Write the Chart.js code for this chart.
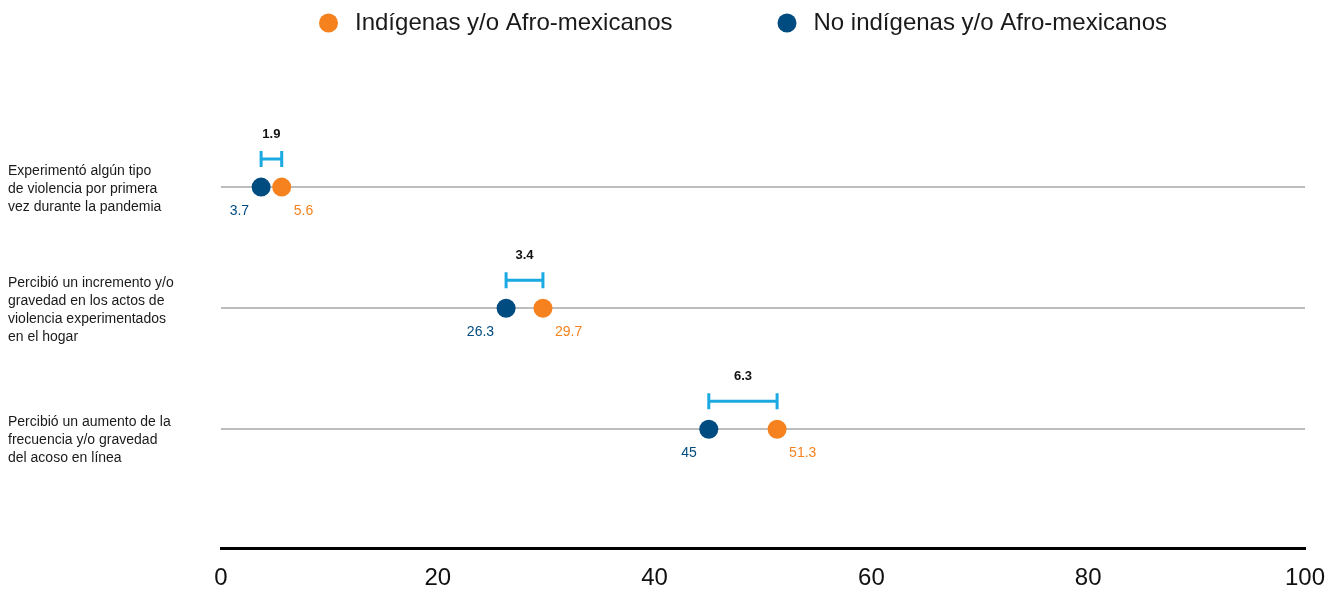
<!DOCTYPE html>
<html lang="es">
<head>
<meta charset="utf-8">
<script src="https://cdn.jsdelivr.net/npm/chart.js@4.4.1/dist/chart.umd.min.js"></script>
<style>
  html, body { margin: 0; padding: 0; background: #fff; }
  #wrap { width: 1336px; height: 593px; }
</style>
</head>
<body>
<div id="wrap"><canvas id="grafica"></canvas></div>
<script>
// datos
const categorias = [
    ['Experimentó algún tipo', 'de violencia por primera', 'vez durante la pandemia'],
    ['Percibió un incremento y/o', 'gravedad en los actos de', 'violencia experimentados', 'en el hogar'],
    ['', 'Percibió un aumento de la', 'frecuencia y/o gravedad', 'del acoso en línea']
];
const series = ['Indígenas y/o Afro-mexicanos', 'No indígenas y/o Afro-mexicanos'];
const indigenas = [5.6, 29.7, 51.3];
const noIndigenas = [3.7, 26.3, 45];
const brechas = [1.9, 3.4, 6.3];
const ticksX = [0, 20, 40, 60, 80, 100];

const naranja = '#f5821f';
const azul = '#004b80';
const celeste = '#1aa9e1';
const fuente = '"Liberation Sans", Arial, Helvetica, sans-serif';

Chart.defaults.font.family = fuente;

const leyenda = {
    id: 'leyenda',
    afterDraw(chart) {
        const ctx = chart.ctx;
        ctx.save();
        ctx.font = '24px ' + fuente;
        ctx.textBaseline = 'middle';
        let x = 319;
        chart.data.datasets.forEach(ds => {
            ctx.fillStyle = ds.backgroundColor;
            ctx.beginPath();
            ctx.arc(x + 9.5, 23, 9.5, 0, Math.PI * 2);
            ctx.fill();
            ctx.fillStyle = '#1a1a1a';
            ctx.fillText(ds.label, x + 36, 23);
            x += 36 + ctx.measureText(ds.label).width + 105;
        });
        ctx.restore();
    }
};

const etiquetas = {
    id: 'etiquetas',
    afterDatasetsDraw(chart) {
        const ctx = chart.ctx;
        const sx = chart.scales.x;
        const sy = chart.scales.y;
        ctx.save();
        brechas.forEach((b, i) => {
            const y = sy.getPixelForValue(i + 1);
            const xa = sx.getPixelForValue(noIndigenas[i]);
            const xn = sx.getPixelForValue(indigenas[i]);

            // valores
            ctx.font = '14px ' + fuente;
            ctx.textBaseline = 'middle';
            ctx.fillStyle = azul;
            ctx.textAlign = 'right';
            ctx.fillText(String(noIndigenas[i]), xa - 12, y + 24);
            ctx.fillStyle = naranja;
            ctx.textAlign = 'left';
            ctx.fillText(String(indigenas[i]), xn + 12, y + 24);

            // brecha
            const yb = y - 28;
            ctx.strokeStyle = celeste;
            ctx.lineWidth = 3;
            ctx.beginPath();
            ctx.moveTo(xa, yb);
            ctx.lineTo(xn, yb);
            ctx.moveTo(xa, yb - 8);
            ctx.lineTo(xa, yb + 8);
            ctx.moveTo(xn, yb - 8);
            ctx.lineTo(xn, yb + 8);
            ctx.stroke();

            ctx.font = 'bold 13px ' + fuente;
            ctx.fillStyle = '#111';
            ctx.textAlign = 'center';
            ctx.fillText(String(b), (xa + xn) / 2, y - 53);
        });
        ctx.restore();
    }
};

const ctx = document.getElementById('grafica');
new Chart(ctx, {
    type: 'scatter',
    data: {
        datasets: [
            {
                label: series[0],
                data: indigenas.map((v, i) => ({ x: v, y: i + 1 })),
                backgroundColor: naranja,
                borderWidth: 0,
                pointRadius: 9.5,
                pointHoverRadius: 9.5
            },
            {
                label: series[1],
                data: noIndigenas.map((v, i) => ({ x: v, y: i + 1 })),
                backgroundColor: azul,
                borderWidth: 0,
                pointRadius: 9.5,
                pointHoverRadius: 9.5
            }
        ]
    },
    options: {
        responsive: true,
        maintainAspectRatio: false,
        animation: false,
        layout: { padding: { top: 66, left: 8, right: 31, bottom: 0 } },
        plugins: {
            legend: { display: false },
            tooltip: { enabled: false }
        },
        scales: {
            x: {
                type: 'linear',
                min: 0,
                max: 100,
                afterBuildTicks: s => { s.ticks = ticksX.map(v => ({ value: v })); },
                afterFit: s => { s.height = 45; s.paddingLeft = 0; s.paddingRight = 0; },
                grid: { color: 'rgba(0,0,0,0)', drawTicks: false },
                border: { color: '#000', width: 3 },
                ticks: { color: '#111', padding: 16, font: { size: 24 } }
            },
            y: {
                type: 'linear',
                min: 0,
                max: 3.98,
                reverse: true,
                afterBuildTicks: s => { s.ticks = [1, 2, 3].map(v => ({ value: v })); },
                afterFit: s => { s.width = 213; },
                grid: { color: '#bdbdbd', lineWidth: 2, drawTicks: false },
                border: { display: false },
                ticks: {
                    crossAlign: 'far',
                    padding: 0,
                    labelOffset: 2,
                    color: '#1a1a1a',
                    font: { size: 14, lineHeight: 1.3 },
                    callback: v => categorias[v - 1]
                }
            }
        }
    },
    plugins: [leyenda, etiquetas]
});
</script>
</body>
</html>
